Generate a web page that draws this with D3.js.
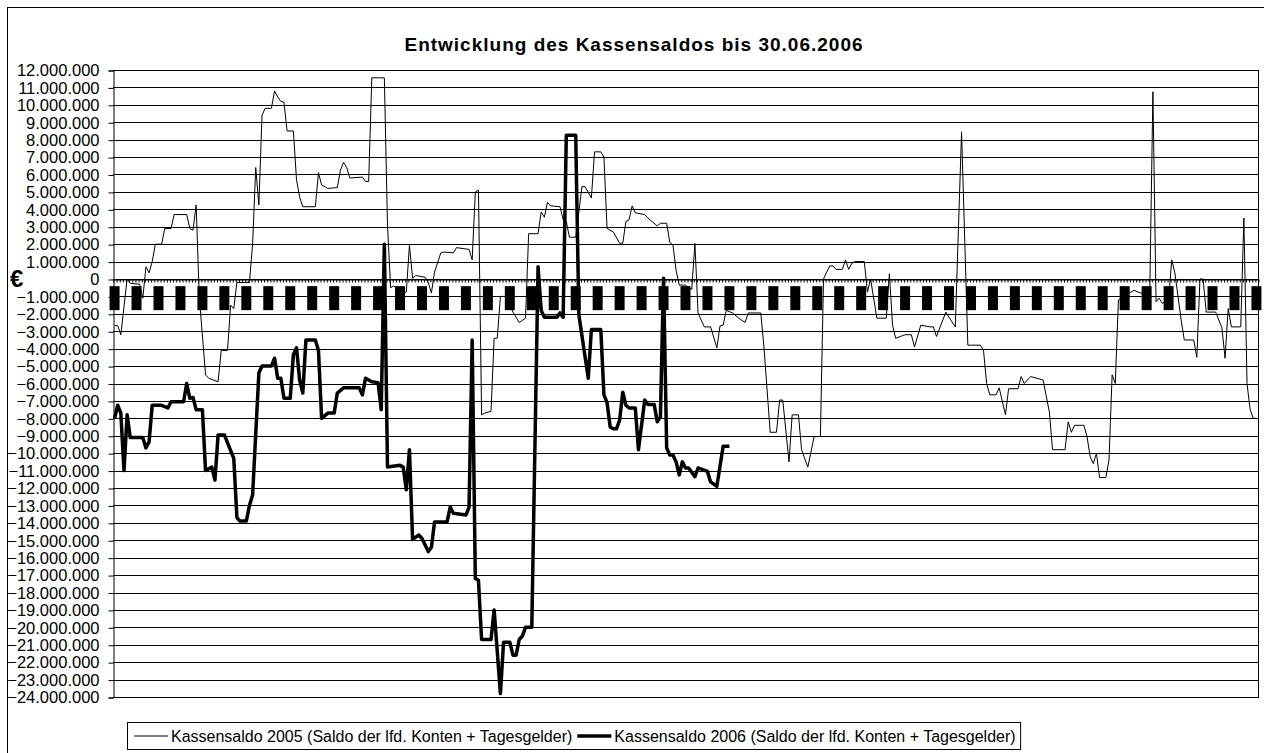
<!DOCTYPE html>
<html>
<head>
<meta charset="utf-8">
<script src="https://cdn.jsdelivr.net/npm/d3@7"></script>
<style>
  body { margin: 0; background: #fff; }
  text { font-family: "Liberation Sans", Arial, sans-serif; fill: #000; }
</style>
</head>
<body>
<svg id="chart"></svg>
<script>
// Tage (Kategorie-Index 0..364) und Kassensaldo in Mio. EUR
const tage2005 = [
  0, 1, 2, 4, 5, 8, 9, 10, 11, 12,
  13, 15, 16, 18, 19, 23, 24, 25, 26, 27,
  29, 30, 33, 34, 36, 37, 38, 39, 43, 44,
  45, 46, 47, 48, 50, 51, 52, 53, 54, 55,
  57, 58, 59, 60, 64, 65, 66, 68, 71, 72,
  73, 74, 75, 79, 80, 81, 82, 86, 87, 88,
  89, 92, 93, 94, 95, 96, 99, 100, 101, 102,
  104, 105, 108, 109, 113, 114, 115, 116, 117, 118,
  120, 121, 122, 123, 125, 127, 129, 131, 132, 135,
  136, 137, 138, 139, 142, 143, 144, 145, 147, 149,
  150, 152, 153, 155, 156, 157, 159, 161, 162, 163,
  164, 165, 166, 169, 170, 173, 174, 176, 177, 178,
  179, 180, 182, 184, 185, 186, 188, 190, 192, 193,
  194, 195, 197, 199, 201, 202, 206, 207, 209, 211,
  212, 213, 215, 216, 218, 219, 221, 223, 225, 226,
  227, 228, 229, 230, 232, 233, 234, 235, 236, 239,
  240, 241, 243, 246, 247, 248, 249, 252, 254, 255,
  257, 260, 261, 262, 265, 266, 268, 270, 272, 276,
  277, 278, 279, 281, 282, 284, 285, 288, 289, 290,
  292, 296, 298, 299, 303, 304, 305, 306, 309, 310,
  311, 312, 313, 314, 316, 317, 318, 319, 320, 324,
  325, 327, 330, 331, 332, 333, 334, 336, 337, 338,
  340, 341, 344, 345, 346, 347, 348, 351, 353, 354,
  355, 356, 359, 360, 361, 362, 363, 364
]
const saldo2005 = [
  -2.68, -2.68, -3.2, 0, -0.25, -0.3, -1.1, 0.7, 0.35, 1.0,
  2.0, 2.0, 2.9, 2.9, 3.7, 3.7, 2.9, 2.8, 4.25, -1.0,
  -5.5, -5.7, -5.9, -4.1, -4.1, -1.5, -1.7, -0.2, -0.2, 2.0,
  6.4, 4.25, 9.4, 9.8, 9.8, 10.8, 10.45, 10.2, 10.15, 8.5,
  8.5, 5.7, 4.7, 4.15, 4.15, 6.1, 5.4, 5.2, 5.25, 6.25,
  6.7, 6.4, 5.8, 5.85, 5.6, 5.6, 11.55, 11.55, 3.1, -0.5,
  -0.4, -0.8, -0.75, 1.95, 0.05, 0.2, 0.1, -0.2, -0.8, 0.4,
  1.5, 1.55, 1.5, 1.8, 1.7, 1.1, 5.0, 5.1, -7.8, -7.7,
  -7.6, -3.4, -3.4, -1.0, -1.0, -1.9, -2.5, -2.25, 2.6, 2.6,
  3.85, 3.55, 4.4, 4.2, 4.15, 3.4, 3.3, 2.4, 2.4, 5.3,
  5.3, 4.65, 7.3, 7.3, 7.0, 2.9, 2.7, 2.05, 2.05, 3.3,
  3.4, 4.2, 3.8, 3.7, 3.5, 3.05, 3.2, 3.2, 2.1, 1.95,
  0.5, -0.35, -0.35, -0.6, 2.05, -1.95, -2.75, -2.75, -3.95, -2.7,
  -2.65, -1.8, -1.95, -2.25, -2.5, -1.95, -1.95, -3.9, -8.8, -8.8,
  -6.95, -6.95, -10.5, -7.8, -7.8, -9.8, -10.8, -9.05, -9.05, 0.0,
  0.4, 0.75, 0.75, 0.55, 0.55, 1.1, 0.55, 0.9, 1.0, 1.0,
  -0.75, 0.0, -2.25, -2.25, 0.3, -2.65, -3.4, -3.2, -3.2, -3.9,
  -2.65, -2.75, -2.75, -3.3, -1.9, -2.2, -2.75, 8.45, -3.8, -3.8,
  -4.1, -6.0, -6.65, -6.65, -6.25, -7.8, -6.3, -6.3, -5.6, -6.0,
  -5.6, -5.8, -7.65, -9.8, -9.8, -8.2, -8.8, -8.4, -8.4, -9.05,
  -10.2, -10.6, -10.0, -11.4, -11.4, -10.4, -5.5, -6.0, -1.2, -0.75,
  -0.65, -0.8, -0.8, 10.75, -1.3, -1.1, -1.4, -1.2, 1.1, 0.35,
  -2.35, -3.5, -3.5, -4.5, 0.0, 0.0, -1.9, -1.9, -2.8, -4.55,
  -1.7, -2.75, -2.75, 3.5, -6.0, -7.5, -8.0, -8.0
]

const tage2006 = [
  0, 1, 2, 3, 4, 5, 9, 10, 11, 12,
  15, 17, 18, 22, 23, 24, 25, 26, 28, 29,
  31, 32, 33, 35, 36, 38, 39, 40, 42, 43,
  44, 46, 47, 50, 51, 52, 53, 54, 56, 57,
  58, 59, 60, 61, 64, 65, 66, 68, 70, 71,
  73, 78, 79, 80, 82, 84, 85, 86, 87, 91,
  92, 93, 94, 95, 97, 98, 100, 101, 102, 106,
  107, 108, 112, 113, 114, 115, 116, 117, 120, 121,
  123, 124, 126, 127, 128, 129, 130, 131, 133, 135,
  136, 137, 141, 142, 143, 144, 147, 148, 151, 152,
  155, 156, 157, 158, 159, 160, 161, 162, 163, 164,
  166, 167, 169, 170, 172, 173, 174, 175, 176, 177,
  178, 179, 180, 181, 182, 183, 185, 186, 189, 190,
  192, 194, 196
]
const saldo2006 = [
  -8.0, -7.25, -7.7, -11.0, -7.8, -9.1, -9.1, -9.7, -9.35, -7.25,
  -7.25, -7.4, -7.05, -7.05, -6.0, -6.85, -6.8, -7.5, -7.5, -11.0,
  -10.8, -11.55, -8.95, -8.95, -9.4, -10.3, -13.7, -13.9, -13.9, -13.0,
  -12.4, -5.4, -5.0, -5.0, -4.55, -5.7, -5.7, -6.85, -6.85, -4.35,
  -3.95, -5.8, -6.55, -3.5, -3.5, -4.1, -8.0, -7.7, -7.7, -6.55,
  -6.25, -6.25, -6.65, -5.7, -5.9, -5.95, -7.5, 2.0, -10.8, -10.7,
  -10.8, -12.1, -9.8, -14.95, -14.7, -14.9, -15.65, -15.4, -13.95, -13.95,
  -13.1, -13.45, -13.55, -13.1, -3.5, -17.2, -17.3, -20.7, -20.7, -19.0,
  -23.8, -20.85, -20.85, -21.6, -21.6, -20.7, -20.5, -20.0, -20.0, 0.7,
  -1.8, -2.2, -2.2, -1.95, -2.2, 8.25, 8.25, -2.05, -5.7, -2.9,
  -2.9, -6.65, -7.1, -8.5, -8.6, -8.6, -8.1, -6.5, -7.25, -7.4,
  -7.4, -9.8, -6.95, -7.2, -7.2, -8.2, -7.9, 0.05, -9.7, -10.1,
  -10.1, -10.5, -11.25, -10.5, -10.85, -10.85, -11.35, -10.85, -11.05, -11.65,
  -11.9, -9.6, -9.6
]

// wöchentliche Markierung (ohne Legende)
const markerTage = [
  0, 7, 14, 21, 28, 35, 42, 49, 56, 63, 70, 77, 84, 91, 98, 105, 112, 119,
  126, 133, 140, 147, 154, 161, 168, 175, 182, 189, 196, 203, 210, 217, 224,
  231, 238, 245, 252, 259, 266, 273, 280, 287, 294, 301, 308, 315, 322, 329,
  336, 343, 350, 357, 364
]
const markerWert = -1.1

const anzahlTage = 365
const yTicks = d3.range(-24, 13, 1)

const titel = "Entwicklung des Kassensaldos bis 30.06.2006"
const legende2005 = "Kassensaldo 2005 (Saldo der lfd. Konten + Tagesgelder)"
const legende2006 = "Kassensaldo 2006 (Saldo der lfd. Konten + Tagesgelder)"

const width = 1264
const height = 753
const plot = { left: 113, right: 1258, top: 70, bottom: 697 }

const de = d3.formatLocale({ decimal: ",", thousands: ".", grouping: [3], currency: ["", " €"] })
const fmt = de.format(",.0f")

const svg = d3.select("#chart").attr("width", width).attr("height", height)

// Rahmen des Diagramms
svg.append("rect")
  .attr("x", 7.5).attr("y", 7.5)
  .attr("width", 1270).attr("height", 770)
  .attr("fill", "none").attr("stroke", "#000")

svg.append("text")
  .attr("x", 634).attr("y", 51)
  .attr("text-anchor", "middle")
  .style("font-size", "19px")
  .style("font-weight", "bold")
  .style("letter-spacing", "1px")
  .text(titel)

const xEdge = d3.scaleLinear().domain([0, anzahlTage]).range([plot.left, plot.right])
const x = (tag) => xEdge(tag + 0.5)
const y = d3.scaleLinear().domain([-24e6, 12e6]).range([plot.bottom, plot.top])

// Gitternetz
svg.append("g")
  .selectAll("line")
  .data(yTicks)
  .join("line")
  .attr("x1", plot.left).attr("x2", plot.right)
  .attr("y1", (d) => Math.round(y(d * 1e6)) + 0.5)
  .attr("y2", (d) => Math.round(y(d * 1e6)) + 0.5)
  .attr("stroke", "#000")

svg.append("line")
  .attr("x1", plot.right + 0.5).attr("x2", plot.right + 0.5)
  .attr("y1", plot.top).attr("y2", plot.bottom + 1)
  .attr("stroke", "#000")

// y-Achse
const yAxis = svg.append("g")
  .attr("transform", `translate(${plot.left + 0.5},0.5)`)
  .call(
    d3.axisLeft(y)
      .tickValues(yTicks.map((d) => d * 1e6))
      .tickSize(5)
      .tickPadding(9)
      .tickFormat((d) => fmt(d))
  )
yAxis.select(".domain").attr("stroke", "#000")
yAxis.selectAll(".tick line").attr("stroke", "#000")
yAxis.selectAll(".tick text")
  .style("font-size", "16.5px")
  .style("font-family", "'Liberation Sans', Arial, sans-serif")
  .attr("fill", "#000")

// x-Achse bei 0 mit Teilstrichen je Tag
const xAxis = svg.append("g")
  .attr("transform", `translate(0.5,${Math.round(y(0)) + 0.5})`)
  .call(
    d3.axisBottom(xEdge)
      .tickValues(d3.range(0, anzahlTage + 1))
      .tickSize(3)
      .tickSizeOuter(0)
      .tickFormat("")
  )
xAxis.select(".domain").attr("stroke", "#000")
xAxis.selectAll(".tick line").attr("stroke", "#000")

svg.append("text")
  .attr("x", 10).attr("y", 287)
  .style("font-size", "24px")
  .style("font-weight", "bold")
  .text("€")

// wöchentliche Markierungen
svg.append("g")
  .selectAll("rect")
  .data(markerTage)
  .join("rect")
  .attr("x", (d) => x(d) - 5)
  .attr("y", y(markerWert * 1e6) - 12)
  .attr("width", 10)
  .attr("height", 24)
  .attr("fill", "#000")

const line = d3.line()
  .x((d) => x(d.tag))
  .y((d) => y(d.wert * 1e6))

const reihe2005 = tage2005.map((t, i) => ({ tag: t, wert: saldo2005[i] }))
const reihe2006 = tage2006.map((t, i) => ({ tag: t, wert: saldo2006[i] }))

svg.append("path")
  .datum(reihe2005)
  .attr("d", line)
  .attr("fill", "none")
  .attr("stroke", "#000")
  .attr("stroke-width", 1)

svg.append("path")
  .datum(reihe2006)
  .attr("d", line)
  .attr("fill", "none")
  .attr("stroke", "#000")
  .attr("stroke-width", 3.5)
  .attr("stroke-linejoin", "round")

// Legende
const leg = svg.append("g")
const box = leg.append("rect")
  .attr("x", 127.5).attr("y", 722.5)
  .attr("height", 27)
  .attr("fill", "#fff").attr("stroke", "#000")

const eintraege = [
  { text: legende2005, breite: 1 },
  { text: legende2006, breite: 3.5 },
]
let pos = 134
eintraege.forEach((e) => {
  leg.append("line")
    .attr("x1", pos).attr("x2", pos + 34)
    .attr("y1", 736).attr("y2", 736)
    .attr("stroke", "#000")
    .attr("stroke-width", e.breite)
  const t = leg.append("text")
    .attr("x", pos + 37).attr("y", 742)
    .style("font-size", "16px")
    .text(e.text)
  pos = pos + 37 + t.node().getComputedTextLength() + 5
})
box.attr("width", pos - 127.5)
</script>
</body>
</html>
